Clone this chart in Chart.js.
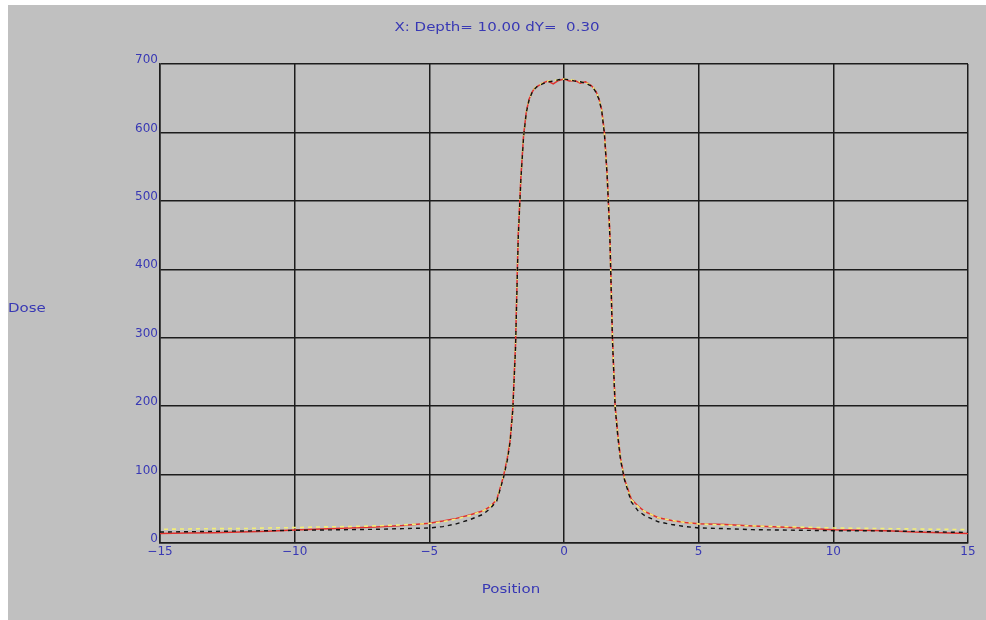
<!DOCTYPE html>
<html>
<head>
<meta charset="utf-8">
<script src="https://cdn.jsdelivr.net/npm/chart.js@4.4.1/dist/chart.umd.min.js"></script>
<style>
  html, body { margin: 0; padding: 0; background: #ffffff; }
  #wrap { position: absolute; left: 8px; top: 5px; width: 978px; height: 615px; background: #c0c0c0; }
  canvas { display: block; }
</style>
</head>
<body>
<div id="wrap"><canvas id="c" width="978" height="615"></canvas></div>
<script>
// Profile positions (cm) shared by the three dose curves
const positions = [-15,-14,-13,-12,-11,-10,-9,-8,-7,-6,-5,-4.5,-4,-3.5,-3,-2.75,-2.5,-2.25,-2.1,
  -2,-1.9,-1.8,-1.7,-1.6,-1.5,-1.4,-1.3,-1.2,-1.1,-1,-0.8,-0.6,-0.4,-0.2,0,0.2,0.4,0.6,0.8,
  1,1.1,1.2,1.3,1.4,1.5,1.6,1.7,1.8,1.9,2,2.1,2.25,2.5,2.75,3,3.5,4,4.5,5,6,7,8,9,10,11,12,13,14,15];

// Measured profile (solid red)
const doseRed = [14,14.5,15,16,17,19,20.5,22,23.5,25.5,29,32,36,41,47,53,63,97,125,
  150,198,290,450,535,596,630,648,658,664,667,672,675,671,676,678,675,676,672,674,
  669,665,659,649,633,600,540,455,300,200,158,124,93,64,54,46,37,33,30,28,27,25,23.5,21.5,19.5,18.5,18,16,15,14];

// Calculated profile (black dashed)
const doseBlack = [16,16.5,17,17.5,18,18.5,19,19.5,20,21,22,24,28,34,42,50,61,95,122,
  148,195,285,445,532,594,629,647,657,663,667,671,674,675,677,678,677,675,674,672,
  668,664,658,648,632,598,538,450,295,198,155,121,92,60,47,40,31,27,24,22,21,19.5,19,18.5,18,18,17.5,17,16,15.5];

// Reference profile (yellow dashed)
const doseYellow = [20,20.5,21,21,22,22.5,23.5,24,25,26.5,28.5,31,35,40,47,53,64,97,124,
  149,196,288,448,534,595,630,648,658,664,668,672,675,676,677,678,677,676,674,673,
  669,665,659,649,633,599,539,452,298,199,157,123,94,63,53,46,37,33,30,28,26,25,24,23,22,21.5,21,20.5,20,19.5];

// Axis ticks
const xTickValues = [-15,-10,-5,0,5,10,15];
const xTickLabels = ['\u221215','\u221210','\u22125','0','5','10','15'];
const yTickValues = [0,100,200,300,400,500,600,700];
const yTickLabels = ['0','100','200','300','400','500','600','700'];

const titleText = 'X: Depth= 10.00 dY=  0.30';
const xAxisTitle = 'Position';
const yAxisTitle = 'Dose';

const TEXT_BLUE = '#3838b4';
const GRID = '#1c1c1c';
const FONT = 'DejaVu Sans';

function points(values) {
  return positions.map((p, i) => ({ x: p, y: values[i] }));
}

// Horizontal captions (title, axis names) drawn slightly widened
const captions = {
  id: 'captions',
  afterDraw(chart) {
    const ctx = chart.ctx;
    const draw = (text, x, y, align) => {
      ctx.save();
      ctx.font = '12px "' + FONT + '"';
      ctx.fillStyle = TEXT_BLUE;
      ctx.textAlign = align;
      ctx.textBaseline = 'middle';
      ctx.translate(x, y);
      ctx.scale(1.25, 1);
      ctx.fillText(text, 0, 0);
      ctx.restore();
    };
    draw(titleText, 489, 23, 'center');
    draw(yAxisTitle, 0, 304, 'left');
    draw(xAxisTitle, 503, 585, 'center');
  }
};

new Chart(document.getElementById('c'), {
  type: 'line',
  data: {
    datasets: [
      { label: 'Measured', data: points(doseRed), borderColor: '#e0302c', borderWidth: 1.5,
        pointRadius: 0, tension: 0, fill: false, order: 3 },
      { label: 'Reference', data: points(doseYellow), borderColor: '#f2ee78', borderWidth: 1.6,
        borderDash: [4, 4], borderDashOffset: 4, pointRadius: 0, tension: 0, fill: false, order: 2 },
      { label: 'Calculated', data: points(doseBlack), borderColor: '#111111', borderWidth: 1.4,
        borderDash: [4, 4], pointRadius: 0, tension: 0, fill: false, order: 1 }
    ]
  },
  options: {
    responsive: false,
    animation: false,
    devicePixelRatio: 1,
    layout: { padding: { left: 0, right: 18, top: 59, bottom: 0 } },
    plugins: { legend: { display: false }, tooltip: { enabled: false }, title: { display: false } },
    scales: {
      x: {
        type: 'linear', min: -15, max: 15,
        afterBuildTicks: (s) => { s.ticks = xTickValues.map(v => ({ value: v })); },
        ticks: {
          color: TEXT_BLUE, font: { family: FONT, size: 12 }, padding: 2, maxRotation: 0,
          callback: (v) => xTickLabels[xTickValues.indexOf(v)]
        },
        grid: { color: GRID, lineWidth: 1.5, drawTicks: false },
        border: { display: true, color: GRID, width: 1.5 },
        afterFit: (s) => { s.height = 77; s.paddingLeft = 0; s.paddingRight = 0; }
      },
      y: {
        type: 'linear', min: 0, max: 700,
        afterBuildTicks: (s) => { s.ticks = yTickValues.map(v => ({ value: v })); },
        ticks: {
          color: TEXT_BLUE, font: { family: FONT, size: 12 }, padding: 2, labelOffset: -4,
          callback: (v) => yTickLabels[yTickValues.indexOf(v)]
        },
        grid: { color: GRID, lineWidth: 1.5, drawTicks: false },
        border: { display: true, color: GRID, width: 1.5 },
        afterFit: (s) => { s.width = 152; s.paddingTop = 0; s.paddingBottom = 0; }
      }
    }
  },
  plugins: [captions]
});
</script>
</body>
</html>
